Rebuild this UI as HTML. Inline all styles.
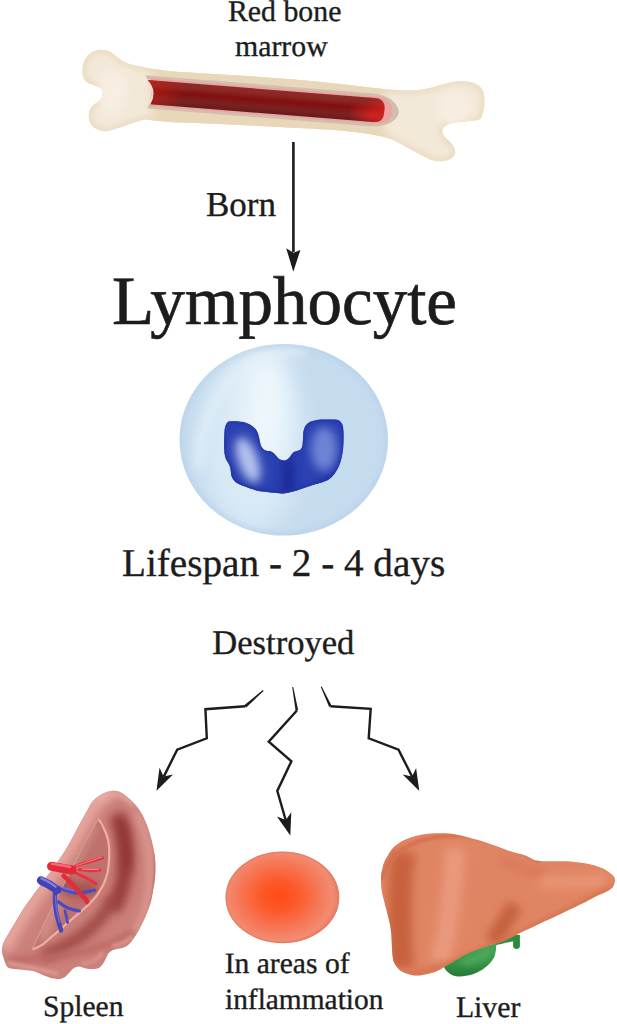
<!DOCTYPE html>
<html><head><meta charset="utf-8">
<style>
html,body{margin:0;padding:0;background:#fff;}
body{width:617px;height:1024px;position:relative;overflow:hidden;font-family:"Liberation Serif",serif;color:#1c1c1c;}
.t{position:absolute;white-space:nowrap;line-height:1;text-rendering:geometricPrecision;-webkit-text-stroke:0.35px #1c1c1c;}
svg{position:absolute;left:0;top:0;}
</style></head><body>
<svg width="617" height="1024" viewBox="0 0 617 1024">
<defs>
  <linearGradient id="boneG" x1="0" y1="0" x2="0" y2="1">
    <stop offset="0" stop-color="#ecdcc0"/>
    <stop offset="0.5" stop-color="#f5ebdc"/>
    <stop offset="1" stop-color="#ecdcc0"/>
  </linearGradient>
  <linearGradient id="redG" x1="0" y1="-12" x2="0" y2="12" gradientUnits="userSpaceOnUse">
    <stop offset="0" stop-color="#902a28"/>
    <stop offset="0.2" stop-color="#8a2824"/>
    <stop offset="0.45" stop-color="#820e10"/>
    <stop offset="0.75" stop-color="#7a2220"/>
    <stop offset="1" stop-color="#661c1a"/>
  </linearGradient>
  <linearGradient id="redH" x1="150" y1="0" x2="245" y2="0" gradientUnits="userSpaceOnUse">
    <stop offset="0" stop-color="#e02020" stop-opacity="0"/>
    <stop offset="0.75" stop-color="#e02020" stop-opacity="0"/>
    <stop offset="1" stop-color="#e82a22" stop-opacity="0.7"/>
  </linearGradient>
  <radialGradient id="redE" cx="228" cy="5" r="14" gradientUnits="userSpaceOnUse" gradientTransform="translate(228 5) scale(1.8 1) translate(-228 -5)">
    <stop offset="0" stop-color="#e82420" stop-opacity="0.7"/>
    <stop offset="1" stop-color="#ee2420" stop-opacity="0"/>
  </radialGradient>
  <linearGradient id="redL" x1="0" y1="0" x2="40" y2="0" gradientUnits="userSpaceOnUse">
    <stop offset="0" stop-color="#d02018" stop-opacity="0.6"/>
    <stop offset="1" stop-color="#d02018" stop-opacity="0"/>
  </linearGradient>
</defs>
<!-- bone -->
<clipPath id="boneC"><path d="M82.5 72 C81.5 58 91 49.7 101 49.7 C109 49.7 114 54 119 58.5 C124 62.5 130 64.5 136 65.5 C150 68.5 160 70.5 180 72 C250 76 300 79 364 86.7 C385 89.5 405 91 418 90 C432 88.5 444 83 456 81.4 C468 80 478 83 482 89 C486 96 485 110 481 118.8 C476 122 458 121 449 124 C441 127 440 133 447 139 C454 145 458 151 453 157 C448 162 438 162.5 430 159.5 C418 154 405 146 392 139.5 C380 135 360 132 340 130.4 C290 127 220 124 180 122.6 C160 121.5 150 120 145 119.5 C132 122.5 118 129 106 131.5 C96 131 89.5 126 88.8 118 C88 111 90.5 106.6 96 103 C101 100 103 96 102.5 91 C102 87 95 86 89.6 83.8 C85 82 82.5 78 82.5 72 Z"/></clipPath>
<path d="M82.5 72 C81.5 58 91 49.7 101 49.7 C109 49.7 114 54 119 58.5 C124 62.5 130 64.5 136 65.5 C150 68.5 160 70.5 180 72 C250 76 300 79 364 86.7 C385 89.5 405 91 418 90 C432 88.5 444 83 456 81.4 C468 80 478 83 482 89 C486 96 485 110 481 118.8 C476 122 458 121 449 124 C441 127 440 133 447 139 C454 145 458 151 453 157 C448 162 438 162.5 430 159.5 C418 154 405 146 392 139.5 C380 135 360 132 340 130.4 C290 127 220 124 180 122.6 C160 121.5 150 120 145 119.5 C132 122.5 118 129 106 131.5 C96 131 89.5 126 88.8 118 C88 111 90.5 106.6 96 103 C101 100 103 96 102.5 91 C102 87 95 86 89.6 83.8 C85 82 82.5 78 82.5 72 Z" fill="#f3e9d9"/>
<g clip-path="url(#boneC)">
  <path d="M82.5 72 C81.5 58 91 49.7 101 49.7 C109 49.7 114 54 119 58.5 C124 62.5 130 64.5 136 65.5 C150 68.5 160 70.5 180 72 C250 76 300 79 364 86.7 C385 89.5 405 91 418 90 C432 88.5 444 83 456 81.4 C468 80 478 83 482 89 C486 96 485 110 481 118.8 C476 122 458 121 449 124 C441 127 440 133 447 139 C454 145 458 151 453 157 C448 162 438 162.5 430 159.5 C418 154 405 146 392 139.5 C380 135 360 132 340 130.4 C290 127 220 124 180 122.6 C160 121.5 150 120 145 119.5 C132 122.5 118 129 106 131.5 C96 131 89.5 126 88.8 118 C88 111 90.5 106.6 96 103 C101 100 103 96 102.5 91 C102 87 95 86 89.6 83.8 C85 82 82.5 78 82.5 72 Z" fill="none" stroke="#e8d6b8" stroke-width="5" filter="url(#bl3)"/>
  <path d="M152 60 L385 80 L385 145 L152 128 Z" fill="#e9d7b9" filter="url(#bl5)"/>
  <ellipse cx="112" cy="92" rx="14" ry="22" fill="#f8eee4" filter="url(#bl5)"/>
  <ellipse cx="455" cy="108" rx="16" ry="18" fill="#f7eee2" filter="url(#bl5)"/>
</g>
<!-- marrow cavity -->
<g transform="translate(145 91.75) rotate(4.56)">
  <path d="M-1 -16.5 L226 -16.5 C246 -16.5 254.5 -6 254.5 0.5 C254.5 7 246 16.5 226 16.5 L4 16.5 Q10.5 -2 -1 -16.5 Z" fill="#d0beb0"/>
  <path d="M1 -13.8 L230 -13.8 C244 -13.8 248.5 -5 248.5 0.5 C248.5 6 244 13.8 230 13.8 L5.8 13.8 Q12.3 -2 1 -13.8 Z" fill="#eca4a0"/>
  <path d="M1.8 -12 Q12.85 -2 6.5 12" fill="none" stroke="#f4dcd4" stroke-width="4"/>
  <path id="redP" d="M1.8 -12 L230 -12 Q240 -12 240 -2 L240 2 Q240 12 230 12 L6.5 12 Q12.85 -2 1.8 -12 Z" fill="url(#redG)"/>
  <path d="M1.8 -12 L230 -12 Q240 -12 240 -2 L240 2 Q240 12 230 12 L6.5 12 Q12.85 -2 1.8 -12 Z" fill="url(#redH)"/>
  <path d="M1.8 -12 L230 -12 Q240 -12 240 -2 L240 2 Q240 12 230 12 L6.5 12 Q12.85 -2 1.8 -12 Z" fill="url(#redL)"/>
  <path d="M1.8 -12 L230 -12 Q240 -12 240 -2 L240 2 Q240 12 230 12 L6.5 12 Q12.85 -2 1.8 -12 Z" fill="url(#redE)"/>
</g>
<!-- born arrow -->
<line x1="293.4" y1="142" x2="293.4" y2="252" stroke="#1c1c1c" stroke-width="2.6"/>
<path d="M286.2 248.2 L293.5 252.7 L300.4 249.9 L293.3 271.7 Z" fill="#1c1c1c"/>

<!-- cell -->
<defs>
  <radialGradient id="cellG" cx="262" cy="420" r="120" gradientUnits="userSpaceOnUse">
    <stop offset="0" stop-color="#eaf5fc"/>
    <stop offset="0.45" stop-color="#d8eaf6"/>
    <stop offset="0.8" stop-color="#c4dbee"/>
    <stop offset="1" stop-color="#b9d2e8"/>
  </radialGradient>
  <radialGradient id="nucG" cx="283" cy="455" r="60" gradientUnits="userSpaceOnUse">
    <stop offset="0" stop-color="#2338a8"/>
    <stop offset="1" stop-color="#2b42b0"/>
  </radialGradient>
  <radialGradient id="nucHL" cx="243" cy="462" r="22" gradientUnits="userSpaceOnUse">
    <stop offset="0" stop-color="#8ea0e0" stop-opacity="0.9"/>
    <stop offset="1" stop-color="#8ea0e0" stop-opacity="0"/>
  </radialGradient>
  <radialGradient id="nucHR" cx="322" cy="446" r="24" gradientUnits="userSpaceOnUse">
    <stop offset="0" stop-color="#6f86d6" stop-opacity="0.7"/>
    <stop offset="1" stop-color="#6f86d6" stop-opacity="0"/>
  </radialGradient>
  <linearGradient id="nucC" x1="270" y1="0" x2="300" y2="0" gradientUnits="userSpaceOnUse">
    <stop offset="0" stop-color="#1a2a98" stop-opacity="0"/>
    <stop offset="0.5" stop-color="#1a2a98" stop-opacity="0.8"/>
    <stop offset="1" stop-color="#1a2a98" stop-opacity="0"/>
  </linearGradient>
</defs>
<clipPath id="cellC"><ellipse cx="283.75" cy="439.75" rx="104.25" ry="95.75"/></clipPath>
<ellipse cx="283.75" cy="439.75" rx="104.25" ry="95.75" fill="#c5dbee"/>
<g clip-path="url(#cellC)">
  <ellipse cx="252" cy="440" rx="50" ry="92" fill="#d9eaf6" filter="url(#bl12)"/>
  <ellipse cx="266" cy="410" rx="22" ry="62" fill="#eef7fc" filter="url(#bl12)"/>
  <path d="M200 470 C196 430 212 392 248 366 C266 355 286 350 306 351" fill="none" stroke="#e2f0f9" stroke-width="10" filter="url(#bl5)" opacity="0.8"/>
  <ellipse cx="283.75" cy="439.75" rx="104.25" ry="95.75" fill="none" stroke="#b6cfe6" stroke-width="4" filter="url(#bl3)"/>
</g>
<clipPath id="nucCl"><path d="M228.5 421.5 C233 421.2 237 421.3 240.7 421.7 C244 422 246.5 422.8 248.8 423.9 C251.5 425.2 253.8 426.8 255.3 428.8 C257 431 258 433 258.5 435.3 C259.5 438 259.6 442 261 445.7 C262 448 263.5 449.5 265 450.2 C267 451 269 450.8 270.6 451.3 C272.5 452 274 453.3 275.2 454.7 C276.8 456.5 278 458.3 279.7 459.3 C281.5 460.5 283.5 460.8 285.4 460.4 C287.3 459.8 288.7 458.5 289.9 457 C291 455.3 292 453.5 293.3 452.5 C294.7 451.5 296.3 451.2 297.9 450.8 C299.5 450.3 300.8 449.4 301.7 447.9 C302.6 446 302.8 442 303 438.7 C303.2 434 303.2 431.5 303.9 429.8 C304.6 427 305.8 425 307.5 423.6 C309.5 421.8 312 420.9 314.6 420.5 C317 420 319.5 419.6 321.7 419.6 L335.1 419.6 C337.5 419.7 339.3 420.4 340.5 421.8 C342 423.3 342.8 425 343.1 427.2 C343.6 431 343.7 435 343.6 438.7 C343.5 443.5 343.3 448 342.7 452.1 C342.2 455.5 341.5 458.8 340.5 461.9 C339.5 464.8 338.4 467.5 336.9 469.9 C335 473 333 475.8 330.7 478 C328 480.2 325 481.4 321.7 482.4 C318.5 483.3 315.6 484.2 312.8 485.1 C308.5 486.5 304 488 299.5 489.6 C296 490.8 292 492 287.7 492.8 C285 493.3 282.3 493.5 279.7 493.3 C274 493 268.3 492.4 262.7 491.6 C258.8 491 255 490 251.3 488.8 C249.5 488.3 247.9 487.7 246.4 487.1 C242.5 485.7 239 484.3 235.8 482.3 C233.8 480.5 232.2 478.3 231.4 475.8 C230.9 473 230.8 470 230.2 467.7 C229.3 464.5 227.6 462.3 226.1 459.6 C224.6 456 224.2 451.5 224.1 447.4 C224 442 224.2 436 224.5 431.2 C224.8 427.5 225.8 423.2 228.5 421.5 Z"/></clipPath>
<g clip-path="url(#nucCl)">
  <rect x="220" y="415" width="130" height="85" fill="#2c42b2"/>
  <path d="M288 458 L288 500" stroke="#1c2c9a" stroke-width="14" filter="url(#bl5)"/>
  <path d="M226 472 C232 487 250 494 280 496 C300 494 320 486 342 470" fill="none" stroke="#2234a4" stroke-width="6" filter="url(#bl3)"/>
  <ellipse cx="248" cy="460" rx="10" ry="24" fill="#b2c0ee" filter="url(#bl5)" transform="rotate(-20 248 460)"/>
  <ellipse cx="324" cy="449" rx="13" ry="22" fill="#7a90da" filter="url(#bl5)" opacity="0.85"/>
  <path d="M228.5 421.5 C233 421.2 237 421.3 240.7 421.7 C244 422 246.5 422.8 248.8 423.9 C251.5 425.2 253.8 426.8 255.3 428.8 C257 431 258 433 258.5 435.3 C259.5 438 259.6 442 261 445.7 C262 448 263.5 449.5 265 450.2 C267 451 269 450.8 270.6 451.3 C272.5 452 274 453.3 275.2 454.7 C276.8 456.5 278 458.3 279.7 459.3 C281.5 460.5 283.5 460.8 285.4 460.4 C287.3 459.8 288.7 458.5 289.9 457 C291 455.3 292 453.5 293.3 452.5 C294.7 451.5 296.3 451.2 297.9 450.8 C299.5 450.3 300.8 449.4 301.7 447.9 C302.6 446 302.8 442 303 438.7 C303.2 434 303.2 431.5 303.9 429.8 C304.6 427 305.8 425 307.5 423.6 C309.5 421.8 312 420.9 314.6 420.5 C317 420 319.5 419.6 321.7 419.6 L335.1 419.6 C337.5 419.7 339.3 420.4 340.5 421.8 C342 423.3 342.8 425 343.1 427.2 C343.6 431 343.7 435 343.6 438.7 C343.5 443.5 343.3 448 342.7 452.1 C342.2 455.5 341.5 458.8 340.5 461.9 C339.5 464.8 338.4 467.5 336.9 469.9 C335 473 333 475.8 330.7 478 C328 480.2 325 481.4 321.7 482.4 C318.5 483.3 315.6 484.2 312.8 485.1 C308.5 486.5 304 488 299.5 489.6 C296 490.8 292 492 287.7 492.8 C285 493.3 282.3 493.5 279.7 493.3 C274 493 268.3 492.4 262.7 491.6 C258.8 491 255 490 251.3 488.8 C249.5 488.3 247.9 487.7 246.4 487.1 C242.5 485.7 239 484.3 235.8 482.3 C233.8 480.5 232.2 478.3 231.4 475.8 C230.9 473 230.8 470 230.2 467.7 C229.3 464.5 227.6 462.3 226.1 459.6 C224.6 456 224.2 451.5 224.1 447.4 C224 442 224.2 436 224.5 431.2 C224.8 427.5 225.8 423.2 228.5 421.5 Z" fill="none" stroke="#2234a6" stroke-width="3" filter="url(#bl2)"/>
</g>
<!-- zigzag arrows -->
<g fill="none" stroke="#1c1c1c" stroke-width="2.4" stroke-linejoin="miter" stroke-linecap="butt">
  <polyline points="245.3,706.3 205.4,709.2 206.8,738.3 177.2,749.6 163.8,776.6"/>
  <polyline points="296.9,710.5 268.75,741.7 291.4,761.25 277.3,790.9 285.8,820.5"/>
  <polyline points="330.4,706.3 370.7,708.8 368.7,738.3 398.5,749.6 412.3,777"/>
</g>
<g fill="#1c1c1c">
  <path d="M262.8 690.1 L263.6 691 L246.2 707.5 L244.2 705.3 Z"/>
  <path d="M292.2 687 L293.2 686.9 L298.2 710.2 L295.6 710.8 Z"/>
  <path d="M320.7 686.8 L321.7 686.4 L331.6 705.7 L329.2 706.9 Z"/>
  <path d="M156.5 790.8 L159.5 767.75 L163.6 776.45 L173 774.4 Z"/>
  <path d="M290.3 835.5 L276.9 816.5 L285.8 820.1 L291.3 812.3 Z"/>
  <path d="M419.3 790.9 L402.7 774.6 L412.1 776.6 L416.1 767.9 Z"/>
</g>

<!-- inflammation -->
<defs>
  <radialGradient id="infG" cx="279" cy="896" r="58" gradientUnits="userSpaceOnUse" gradientTransform="translate(279 896) scale(1 0.83) translate(-279 -896)">
    <stop offset="0" stop-color="#ff4c16"/>
    <stop offset="0.3" stop-color="#fc5828"/>
    <stop offset="0.7" stop-color="#f67858"/>
    <stop offset="0.93" stop-color="#f28c72"/>
    <stop offset="1" stop-color="#ea8268"/>
  </radialGradient>
  <linearGradient id="livG" x1="0" y1="0" x2="1" y2="0">
    <stop offset="0" stop-color="#d46c48"/>
    <stop offset="0.2" stop-color="#df8262"/>
    <stop offset="0.5" stop-color="#e48a6a"/>
    <stop offset="1" stop-color="#e0805c"/>
  </linearGradient>
  <linearGradient id="gbG" x1="0" y1="0" x2="0" y2="1">
    <stop offset="0" stop-color="#3c9c4c"/>
    <stop offset="1" stop-color="#2f8a40"/>
  </linearGradient>
  <linearGradient id="splG" x1="0" y1="0" x2="1" y2="0">
    <stop offset="0" stop-color="#d48a84"/>
    <stop offset="0.5" stop-color="#c06a66"/>
    <stop offset="1" stop-color="#cc7a74"/>
  </linearGradient>
</defs>
<ellipse cx="282.4" cy="897.4" rx="56.9" ry="45.8" fill="url(#infG)"/>
<ellipse cx="282.4" cy="897.4" rx="56.2" ry="45.1" fill="none" stroke="#dd7a64" stroke-width="1.1" opacity="0.75"/>
<!-- liver gallbladder -->
<defs>
  <clipPath id="lvC"><path id="liverP" d="M381.1 885.8 C380.8 878 381 873 382.3 868.8 C383.5 863 385 860 387.2 856.6 C390 851 393 847.5 396.9 844.5 C401 841 406 839 411.5 837.2 C418 835 424 833.8 430.9 833.5 C437 833.2 442 833.2 448 833.5 C455 834 461 835.5 467.4 837.2 C473 838.8 479 840.2 484.4 842 C490 844 496 846 501.4 848.1 C510 851.5 518 853.5 525 855.4 C530 857.5 533 859.5 535.7 860.4 C546 862 556 861 567.2 861.2 C578 862 585 863 590.8 864.4 C600 866.5 605 869 608 871.4 C612 874 615 877 615.1 879.3 C615 883 614 885.5 612.8 887.2 C609 891 604 893 598.6 895 C592 898 586 902 580 904.6 C573 908 565 912 558.3 915 C551 918.5 545 921 538.9 924.1 C532 927.5 526 930 519.4 933.2 C513 936.5 508 939.5 504 941 C500 942.5 496 943.5 492.7 944.5 C485 947 477 949.5 470 952.4 C462 956 455 960.5 447.9 964.8 C444 967 442 968.5 439.8 969.7 C436 971.5 432 973 428.5 973.7 C425 974.5 422 975.2 418.8 975.4 C414 975.6 411 975 407.4 973.7 C404 972.6 401.5 971.5 399.3 969.7 C396.5 967 395 964.5 393.6 961.6 C392.5 957 392.3 953 392 948.6 C391.8 943 391.7 937.5 391.2 932.4 C390.5 926.5 389.5 921.5 388 916.2 C386.5 910 385 905 383.9 900 C382.3 895 381.5 890.5 381.1 885.8 Z"/></clipPath>
  <clipPath id="gbC"><path d="M445.5 969.7 C448 973 452 975.6 456 976.2 C461 977 467 976 472.2 974.6 C480 972 486 967.5 490.4 962.7 C493 959.5 494.5 957 495 954.7 C495.8 951.5 496 949.5 496 947.9 L497 940 L470 948 L442 964 Z"/></clipPath>
  <linearGradient id="gbG2" x1="0" y1="945" x2="0" y2="977" gradientUnits="userSpaceOnUse">
    <stop offset="0" stop-color="#47a556"/>
    <stop offset="0.5" stop-color="#3a9649"/>
    <stop offset="1" stop-color="#267a36"/>
  </linearGradient>
</defs>
<path d="M513.1 935 L519.9 935 L519.9 946 C519.9 950 513.1 950 513.1 946 Z" fill="#2c8a3c"/>
<path d="M490 944 C498 942 506 940 515 938.5" fill="none" stroke="#2f8e40" stroke-width="5"/>
<g clip-path="url(#gbC)">
  <rect x="440" y="935" width="60" height="45" fill="url(#gbG2)"/>
  <path d="M462 962 C472 962 482 958 490 950" fill="none" stroke="#55b064" stroke-width="5" filter="url(#bl3)"/>
</g>
<!-- liver -->
<g clip-path="url(#lvC)">
  <rect x="378" y="830" width="240" height="150" fill="#e08563"/>
  <path d="M404 852 C399 880 399 920 402 968" fill="none" stroke="#c8623e" stroke-width="24" filter="url(#bl5)"/>
  <path d="M455 848 C454 880 450 920 440 962" fill="none" stroke="#ea987b" stroke-width="20" filter="url(#bl5)"/>
  <path d="M515 905 C508 918 500 930 492 942" fill="none" stroke="#c4603c" stroke-width="16" filter="url(#bl5)"/>
  <path d="M500 858 C518 868 530 872 545 874" fill="none" stroke="#d8775a" stroke-width="8" filter="url(#bl5)"/>
  <path d="M540 882 C565 884 585 882 605 880" fill="none" stroke="#e99878" stroke-width="10" filter="url(#bl5)"/>
  <path d="M400 976 C440 972 480 952 520 934 C550 920 580 905 614 888" fill="none" stroke="#d26c48" stroke-width="5" filter="url(#bl3)"/>
  <path d="M382 880 C388 850 420 832 470 836 C500 842 520 852 540 861" fill="none" stroke="#d47050" stroke-width="4" filter="url(#bl2)"/>
</g>
<!-- spleen -->
<defs>
  <clipPath id="spC"><path id="spleenP" d="M111.5 790.9 C117 790.5 121 792 125 795 C133 801 139 808 143 816 C149 828 153 843 155 858 C156 870 155 882 153.1 890 C152 897 151 903 148 910 C146 916 143.5 921 141.5 925 C138 932 135 937 131 942 C128 946 125 947.5 121 948.3 C117 949 114 949.5 112.3 950.5 C109.5 952 108.5 953 107.9 954.2 C106 958 105 961 103.5 962.9 C101 966.5 99 968.5 96.3 968.8 C93 969.2 90 969 87.5 968.8 C84 968.5 81 966.6 78.8 966.6 C75 966.6 72 969.5 70 971.9 C67 975 65.5 977 63.5 977.7 C61 979 59 979.2 57 979 C53 978.5 51 978 48 977 C45 975.8 42 974.5 38.9 973.2 C35 971.5 33 971 29.8 970.6 C25 970 21 969.6 16.9 969.3 C13 969 11 968.7 9.1 968 C7.5 967.2 7 966.5 6.5 965.4 C5 962.5 4.5 961 3.9 958.9 C2.5 955 1.8 952 1.9 949.8 C2 946 3.5 942 5.2 939.4 C8 934 11 929 14.3 923.9 C19 916 23 909 27.4 903 C32 897 36 891 40 886.1 C44 880 48 875 52.7 869.3 C57 863 61 857 65.3 850.3 C70 843 74 835 78 827.1 C82 820 85 814 88.5 808.2 C91 803 93.5 800 96.9 797.6 C101 794 106 791.3 111.5 790.9 Z"/></clipPath>
  <clipPath id="hiC"><path d="M98.4 819.3 C101 822 102.5 825 103.8 828.2 C106 833 107.5 837 108.3 840.7 C109.5 847 109.5 853 109.1 858.5 C108.8 864 108.5 868 107.4 872.7 C106.5 876.5 105.5 880 103.8 883.4 C101 889 98.5 893.5 94.9 897.7 C91 902.5 87 906.5 82.4 910.2 C78 914 74 917.5 69.9 920.9 C65 925 60.5 929.5 55.7 933.4 C51 937 47.5 940.5 43.2 944.1 C39.5 946.5 36 948.3 32.5 949.4 C36 940 42 928 50 912 C60 892 72 868 84 845 C89 835 94 826 98.4 819.3 Z"/></clipPath>
  <filter id="bl3" filterUnits="userSpaceOnUse" x="0" y="0" width="617" height="1024"><feGaussianBlur stdDeviation="3"/></filter>
  <filter id="bl5" filterUnits="userSpaceOnUse" x="0" y="0" width="617" height="1024"><feGaussianBlur stdDeviation="5"/></filter>
  <filter id="bl12" filterUnits="userSpaceOnUse" x="0" y="0" width="617" height="1024"><feGaussianBlur stdDeviation="12"/></filter>
  <filter id="bl2" filterUnits="userSpaceOnUse" x="0" y="0" width="617" height="1024"><feGaussianBlur stdDeviation="1.5"/></filter>
  <filter id="bl1" filterUnits="userSpaceOnUse" x="0" y="0" width="617" height="1024"><feGaussianBlur stdDeviation="0.7"/></filter>
</defs>
<g clip-path="url(#spC)">
  <rect x="0" y="785" width="160" height="200" fill="#cc807a"/>
  <!-- right dark band -->
  <path d="M117 814 C123 830 126 848 125 868 C124 885 119 898 112 910" fill="none" stroke="#983e3a" stroke-width="16" filter="url(#bl5)"/>
  <path d="M114 898 C106 913 94 927 80 937 C68 945 56 951 42 956" fill="none" stroke="#9e4842" stroke-width="12" filter="url(#bl5)"/>
  <path d="M121 822 C126 836 128 852 127 870" fill="none" stroke="#8e3632" stroke-width="8" filter="url(#bl5)"/>
  <!-- right edge highlight -->
  <path d="M136 812 C147 830 151 855 150 880 C149 903 143 920 134 935" fill="none" stroke="#dc9890" stroke-width="7" filter="url(#bl3)"/>
  <path d="M157 850 C158 880 154 910 145 930" fill="none" stroke="#b45a54" stroke-width="4" filter="url(#bl2)"/>
  <!-- left rim highlight -->
  <path d="M110 790 C99 796 92 804 86 815 C72 842 52 872 32 900 C20 918 9 933 3 950" fill="none" stroke="#e4a49c" stroke-width="18" filter="url(#bl5)"/>
  <path d="M96 799 C114 789 126 793 136 806" fill="none" stroke="#e8aca4" stroke-width="6" filter="url(#bl3)"/>
  <!-- bottom shading -->
  <path d="M10 960 C35 960 60 957 85 951 C105 946 120 940 134 932" fill="none" stroke="#bc6a64" stroke-width="7" filter="url(#bl3)"/>
  <!-- bottom lobe highlights -->
  <path d="M8 963 C22 966 40 969 58 974" fill="none" stroke="#dc9890" stroke-width="4" filter="url(#bl2)"/>
  <path d="M82 963 C92 964 98 960 103 952 M112 946 C120 945 127 942 133 936" fill="none" stroke="#d8928a" stroke-width="4" filter="url(#bl2)"/>
</g>
<!-- hilum -->
<g clip-path="url(#hiC)">
  <rect x="25" y="815" width="90" height="140" fill="#bf726c"/>
  <path d="M60 880 C70 890 80 895 95 885" fill="none" stroke="#a4524e" stroke-width="14" filter="url(#bl5)"/>
  <path d="M96 825 C88 840 80 855 72 870" fill="none" stroke="#cc8a82" stroke-width="6" filter="url(#bl3)"/>
  <path d="M42 940 C46 925 52 912 58 900" fill="none" stroke="#d4948c" stroke-width="10" filter="url(#bl5)"/>
</g>
<path d="M98.4 819.3 C101 822 102.5 825 103.8 828.2 C106 833 107.5 837 108.3 840.7 C109.5 847 109.5 853 109.1 858.5 C108.8 864 108.5 868 107.4 872.7 C106.5 876.5 105.5 880 103.8 883.4 C101 889 98.5 893.5 94.9 897.7 C91 902.5 87 906.5 82.4 910.2 C78 914 74 917.5 69.9 920.9 C65 925 60.5 929.5 55.7 933.4 C51 937 47.5 940.5 43.2 944.1 C39.5 946.5 36 948.3 32.5 949.4" fill="none" stroke="#eeaea6" stroke-width="2.2" filter="url(#bl1)"/>
<path d="M98.4 819.3 C94 826 89 835 84 845 C72 868 60 892 50 912 C42 928 36 940 32.5 949.4" fill="none" stroke="#dc9c94" stroke-width="1.2" opacity="0.8"/>
<!-- vessels -->
<g fill="none" stroke-linecap="round" stroke-linejoin="round">
  <!-- vein branches -->
  <path d="M55 893 C54.5 903 56 913 58 920 C59.5 925 60.5 928 61.1 930.4" stroke="#4646bc" stroke-width="4.4"/>
  <path d="M58.5 887.6 C64 889.5 69 892 75.4 892.8 C82 893.5 88 891.5 94.8 890.2" stroke="#4c4cc2" stroke-width="3.4"/>
  <path d="M58.5 901.9 C62 904.5 65 906.8 68.9 908.3 C72.5 909.8 76 910.5 79.3 910.9" stroke="#4c4cc2" stroke-width="3.4"/>
  <path d="M65 910.9 C65.8 914 66.8 918.5 67.6 922.6" stroke="#4c4cc2" stroke-width="2.8"/>
  <path d="M55.5 896 C55.5 905 57 914 59.5 922" stroke="#6a6ad8" stroke-width="1.4"/>
  <path d="M60 886.6 C66 888.6 72 891 80 891.2" stroke="#7474e0" stroke-width="1.2"/>
  <!-- vein trunk -->
  <path d="M41 880.5 C47 883 52 886 57.2 890" stroke="#4242b6" stroke-width="8.4"/>
  <path d="M41.5 878.2 C47 880.5 51 883 55.5 886.5" stroke="#7a7ade" stroke-width="2.6"/>
  <!-- artery branches -->
  <path d="M63.7 875.9 C67 879 71 882.5 74.1 886.3 C78 891 82 896 85.8 899.3 L87 901.9" stroke="#e52a3a" stroke-width="4.6"/>
  <path d="M74.1 866.9 C78 865 83 863.5 88.3 862.3 C93 861 98 859.5 102.6 857.8" stroke="#ea3040" stroke-width="3.2"/>
  <path d="M79.3 869.4 C83 870 87 870.5 90.9 870.7 C94 870.7 97 870.5 100 870.1" stroke="#ea3040" stroke-width="3"/>
  <path d="M74.1 872 C77.5 874 81 875.5 84.5 877.2 C88 879 92 881.5 96.1 883.7" stroke="#ea3040" stroke-width="3"/>
  <path d="M76 865.8 C84 863 94 860 102 857" stroke="#fa7a86" stroke-width="1"/>
  <path d="M82 869 C88 869.6 94 869.6 99 869.2" stroke="#fa8a94" stroke-width="1"/>
  <!-- artery trunk -->
  <path d="M51.5 866.3 C58 867.3 65 869 72 870" stroke="#e3283a" stroke-width="9"/>
  <path d="M52 863.8 C58 864.6 64 865.8 70 867" stroke="#f86a78" stroke-width="2.6"/>
</g>
</svg>
<div class="t" id="t1" style="left:228px;top:-3px;font-size:29.8px;">Red bone</div>
<div class="t" id="t2" style="left:235px;top:32px;font-size:29.8px;">marrow</div>
<div class="t" id="t3" style="left:206px;top:187px;font-size:35px;">Born</div>
<div class="t" id="t4" style="-webkit-text-stroke:0.7px #1c1c1c;left:112px;top:266.8px;font-size:69px;">Lymphocyte</div>
<div class="t" id="t5" style="left:122px;top:544px;font-size:39.2px;">Lifespan - 2 - 4 days</div>
<div class="t" id="t6" style="left:212.3px;top:626.4px;font-size:34.6px;">Destroyed</div>
<div class="t" id="t7" style="left:43px;top:993px;font-size:29.6px;">Spleen</div>
<div class="t" id="t8" style="left:224.7px;top:950.4px;font-size:29.6px;">In areas of</div>
<div class="t" id="t9" style="left:225px;top:986.3px;font-size:29.4px;">inflammation</div>
<div class="t" id="t10" style="left:455.9px;top:992.8px;font-size:29.8px;">Liver</div>
</body></html>
